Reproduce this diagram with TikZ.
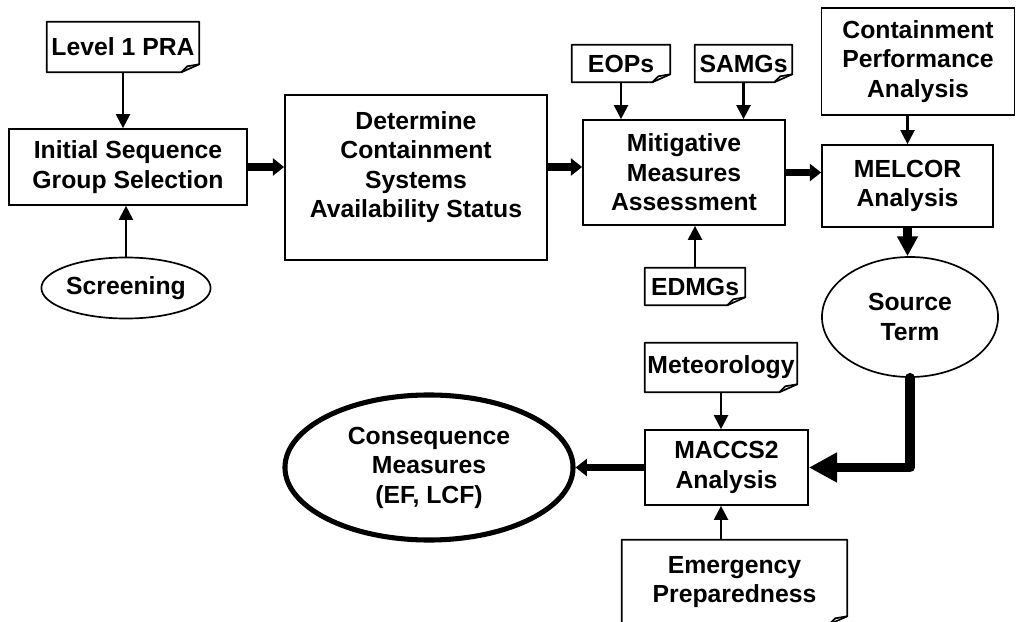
\documentclass[tikz,border=0pt]{standalone}
\usepackage{fontspec}
\setmainfont{Liberation Sans}
\usetikzlibrary{shapes.geometric, arrows.meta, positioning, calc}
\newcommand{\boxfont}{\bfseries\fontsize{17.6}{21}\selectfont}
\tikzset{
    % Node styles
    stagebox/.style={
        rectangle,
        draw,
        line width=1.2pt,
        inner sep=0pt,
        align=center,
        font=\boxfont
    },
    docbox/.style={
        rectangle,
        draw=none,
        inner sep=0pt,
        align=center,
        font=\boxfont
    },
    docline/.style={
        line width=1.2pt,
        line join=round
    },
    roundbox/.style={
        ellipse,
        draw,
        line width=1.2pt,
        inner sep=0pt,
        align=center,
        font=\boxfont
    },
    resultbox/.style={
        ellipse,
        draw,
        line width=3.6pt,
        inner sep=0pt,
        align=center,
        font=\boxfont
    },
    % Arrow styles
    thinarrow/.style={
        -{Triangle[length=10pt,width=10pt]},
        line width=1.6pt
    },
    bigarrow/.style={
        -{Triangle[length=8pt,width=12pt]},
        line width=5pt
    },
    hugearrow/.style={
        -{Triangle[length=20pt,width=20pt]},
        line width=7pt,
        line join=round,
        line cap=round
    }
}
\begin{document}
\begin{tikzpicture}[x=0.025cm, y=-0.025cm]
    \useasboundingbox (0,0) rectangle (1018,622);

    % Inputs and first stages
    \node[docbox, minimum width=3.8cm, minimum height=1.25cm] (lvl) at (123,47) {Level 1 PRA};
    \node[stagebox, minimum width=5.95cm, minimum height=1.9cm] (init) at (128,167) {Initial Sequence\\Group Selection};
    \node[roundbox, minimum width=4.175cm, minimum height=1.525cm] (scr) at (126,288) {Screening};
    \node[stagebox, minimum width=6.55cm, minimum height=4.125cm, text depth=0.65cm] (det) at (416,177.5) {Determine\\Containment\\Systems\\Availability Status};

    % Mitigation
    \node[docbox, minimum width=2.45cm, minimum height=0.925cm] (eops) at (621,63.5) {EOPs};
    \node[docbox, minimum width=2.425cm, minimum height=0.925cm] (samgs) at (743.5,63.5) {SAMGs};
    \node[stagebox, minimum width=5.05cm, minimum height=2.625cm] (mit) at (684,172.5) {Mitigative\\Measures\\Assessment};
    \node[docbox, minimum width=2.5cm, minimum height=0.925cm] (edmgs) at (695,286.5) {EDMGs};

    % Containment analysis
    \node[stagebox, minimum width=4.825cm, minimum height=2.675cm] (cpa) at (918,61.5) {Containment\\Performance\\Analysis};
    \node[stagebox, minimum width=4.275cm, minimum height=2.05cm] (melcor) at (907.5,186) {MELCOR\\Analysis};
    \node[roundbox, minimum width=4.4cm, minimum height=3.0cm] (src) at (910,317) {Source\\Term};

    % Consequence analysis
    \node[docbox, minimum width=3.8cm, minimum height=1.225cm] (met) at (721,367.5) {Meteorology};
    \node[stagebox, minimum width=4.075cm, minimum height=1.875cm] (maccs) at (726.5,467.5) {MACCS2\\Analysis};
    \node[docbox, minimum width=5.625cm, minimum height=2.1cm] (emerg) at (734.5,582) {Emergency\\Preparedness};
    \node[resultbox, minimum width=7.2cm, minimum height=3.625cm] (cons) at (429,467.5) {Consequence\\Measures\\(EF, LCF)};

    % Document outlines
    \foreach \d in {lvl,eops,samgs,edmgs,met,emerg}{
        \draw[docline] (\d.south west) -- (\d.north west) -- (\d.north east) -- ([yshift=0.2cm]\d.south east) -- ([xshift=-0.45cm]\d.south east) -- cycle;
        \draw[docline] ([xshift=-0.45cm]\d.south east) -- ([xshift=-0.3cm,yshift=0.15cm]\d.south east) -- ([yshift=0.2cm]\d.south east);
    }

    % Connectors
    \draw[thinarrow] (lvl.south) -- (lvl.south |- init.north);
    \draw[thinarrow] (scr.north) -- (scr.north |- init.south);
    \draw[bigarrow] (init.east) -- (init.east -| det.west);
    \draw[bigarrow] (det.east |- init.east) -- (mit.west |- init.east);
    \draw[thinarrow] (eops.south) -- (eops.south |- mit.north);
    \draw[thinarrow] (samgs.south) -- (samgs.south |- mit.north);
    \draw[thinarrow] (edmgs.north) -- (edmgs.north |- mit.south);
    \draw[bigarrow] (mit.east) -- (mit.east -| melcor.west);
    \draw[thinarrow] (cpa.south -| melcor.north) -- (melcor.north);
    \draw[bigarrow, line width=6pt, -{Triangle[length=14pt,width=14pt]}] (melcor.south) -- (melcor.south |- src.north);
    \draw[hugearrow] (src.south) -- (src.south |- maccs.east) -- (maccs.east);
    \draw[thinarrow] (met.south) -- (met.south |- maccs.north);
    \draw[thinarrow] (met.south |- emerg.north) -- (met.south |- maccs.south);
    \draw[bigarrow, line width=5.5pt] (maccs.west) -- (cons.east);
\end{tikzpicture}
\end{document}
